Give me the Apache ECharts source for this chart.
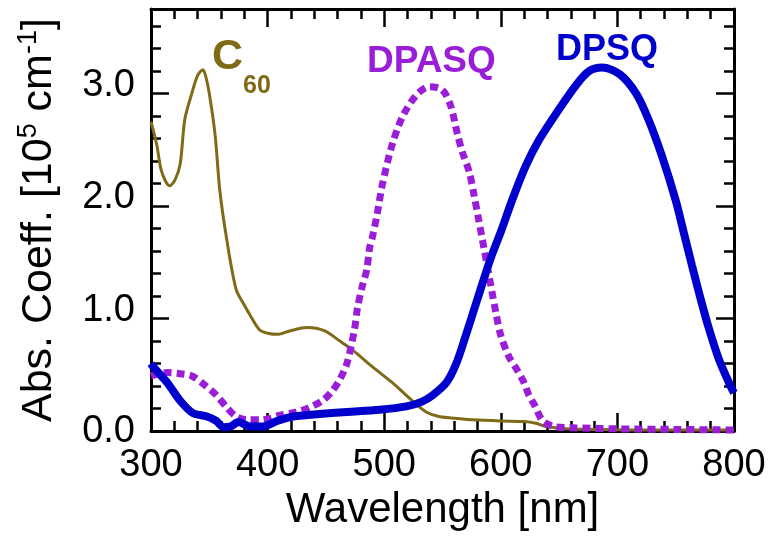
<!DOCTYPE html>
<html>
<head>
<meta charset="utf-8">
<script src="https://cdn.jsdelivr.net/npm/echarts@6/dist/echarts.min.js"></script>
<style>html,body{margin:0;padding:0;background:#fff;}#c{width:771px;height:536px;}</style>
</head>
<body>
<div id="c"></div>
<script>
// ---- data ----
var c60X = [300, 305, 309, 316, 320.5, 325, 329, 335, 340, 344.5, 347, 350, 355, 359, 365, 373, 380, 385, 393, 400, 408.5, 419, 434, 449, 462, 473, 490, 507, 524, 536, 547, 565, 576, 600, 620, 630, 639, 656, 680, 720, 760, 800];
var c60Y = [2.75, 2.54, 2.31, 2.18, 2.23, 2.37, 2.77, 3.0, 3.16, 3.21, 3.15, 3.0, 2.63, 2.14, 1.70, 1.26, 1.12, 1.03, 0.90, 0.87, 0.86, 0.89, 0.92, 0.89, 0.80, 0.72, 0.57, 0.43, 0.27, 0.17, 0.13, 0.11, 0.10, 0.09, 0.085, 0.07, 0.04, 0.02, 0.015, 0.01, 0.01, 0.01];

var dpasqX = [300, 314, 325, 335, 346, 356, 365, 373, 383, 395, 410, 425, 436, 447, 455, 462, 468, 474.5, 477, 481.5, 485, 487.5, 490, 494, 498.6, 507, 516, 528, 539, 550, 557, 563, 567, 573, 577, 581, 586, 591, 596, 600, 607, 613, 620, 624, 629, 636, 646, 660, 700, 750, 800];
var dpasqY = [0.49, 0.52, 0.51, 0.49, 0.41, 0.32, 0.21, 0.13, 0.10, 0.10, 0.14, 0.17, 0.21, 0.27, 0.35, 0.46, 0.60, 0.90, 1.09, 1.30, 1.43, 1.63, 1.73, 1.93, 2.20, 2.55, 2.80, 2.99, 3.06, 3.03, 2.89, 2.63, 2.48, 2.30, 2.10, 1.88, 1.60, 1.32, 1.04, 0.85, 0.66, 0.56, 0.43, 0.32, 0.23, 0.09, 0.04, 0.03, 0.02, 0.015, 0.01];

var dpsqX = [300, 302, 314, 325, 336, 348, 356, 362, 368, 375, 385, 396, 408, 422, 442, 468, 496, 519, 532, 541.7, 553.3, 561.8, 570.3, 577.4, 584.5, 591.5, 600, 610, 621.6, 633, 648, 665, 676, 687, 702, 716, 727, 738, 750, 757, 764, 771.5, 778.5, 787, 797, 800];
var dpsqY = [0.60, 0.57, 0.43, 0.27, 0.16, 0.13, 0.09, 0.035, 0.04, 0.08, 0.04, 0.04, 0.09, 0.13, 0.15, 0.17, 0.19, 0.22, 0.26, 0.32, 0.43, 0.60, 0.86, 1.09, 1.32, 1.54, 1.77, 2.06, 2.36, 2.59, 2.83, 3.08, 3.20, 3.23, 3.17, 3.00, 2.76, 2.45, 2.05, 1.76, 1.47, 1.17, 0.91, 0.64, 0.40, 0.34];

var xMin = 300, xMax = 800, xStep = 100;
var yMin = 0, yMax = 3.75, yStep = 1, yMinorStep = 0.2;

var seriesNames = ['C60', 'DPASQ', 'DPSQ'];
var colors = ['#7f6a17', '#9a1ed8', '#0000cc'];

function pairs(xs, ys) { return xs.map(function (x, i) { return [x, ys[i]]; }); }

var FONT = 'Liberation Sans, Arial, sans-serif';
var black = '#000';
var chart = echarts.init(document.getElementById('c'), null, { renderer: 'canvas' });

var majorTick = { show: true, inside: true, length: 18, lineStyle: { color: black, width: 2.5 } };
var minorTickAxis = { show: true, inside: true, length: 10, lineStyle: { color: black, width: 2.5 } };
var frameLine = { show: true, onZero: false, lineStyle: { color: black, width: 3 } };

chart.setOption({
  backgroundColor: '#fff',
  animation: false,
  grid: { left: 151, top: 9, right: 37, bottom: 89, containLabel: false },
  xAxis: [
    {
      type: 'value', min: xMin, max: xMax, interval: xStep, position: 'bottom',
      axisLine: frameLine, axisTick: majorTick,
      minorTick: { show: true, splitNumber: 5, length: 10, lineStyle: { color: black, width: 2.5 } },
      splitLine: { show: false }, minorSplitLine: { show: false },
      axisLabel: { fontSize: 38, color: black, fontFamily: FONT, margin: 15 },
      name: 'Wavelength [nm]', nameLocation: 'middle', nameGap: 51,
      nameTextStyle: { fontSize: 42, color: black, fontFamily: FONT }
    },
    {
      type: 'value', min: xMin, max: xMax, interval: xStep, position: 'top',
      axisLine: frameLine, axisTick: majorTick,
      minorTick: { show: true, splitNumber: 5, length: 10, lineStyle: { color: black, width: 2.5 } },
      splitLine: { show: false }, axisLabel: { show: false }
    }
  ],
  yAxis: [
    {
      type: 'value', min: yMin, max: yMax, interval: yStep, position: 'left',
      axisLine: frameLine, axisTick: majorTick, splitLine: { show: false },
      axisLabel: {
        showMaxLabel: false, color: black, margin: 16,
        formatter: function (v) { return v === 0 ? '{z|0.0}' : '{n|' + v.toFixed(1) + '}'; },
        rich: {
          n: { fontSize: 38, color: black, fontFamily: FONT, padding: [0, 0, 16, 0] },
          z: { fontSize: 38, color: black, fontFamily: FONT }
        }
      },
      name: '{t|Abs. Coeff. [10}{s|5}{t| cm}{s|-1}{t|]}',
      nameLocation: 'middle', nameGap: 88, nameRotate: 90,
      nameTextStyle: {
        rich: {
          t: { fontSize: 43, color: black, fontFamily: FONT, lineHeight: 48 },
          s: { fontSize: 27, color: black, fontFamily: FONT, verticalAlign: 'top', lineHeight: 48, padding: [0, 0, 18, 0] }
        }
      }
    },
    {
      type: 'value', min: yMin, max: yMax, interval: yMinorStep, position: 'left',
      axisLine: { show: false }, axisTick: minorTickAxis, splitLine: { show: false }, axisLabel: { show: false }
    },
    {
      type: 'value', min: yMin, max: yMax, interval: yStep, position: 'right',
      axisLine: frameLine, axisTick: majorTick, splitLine: { show: false }, axisLabel: { show: false }
    },
    {
      type: 'value', min: yMin, max: yMax, interval: yMinorStep, position: 'right',
      axisLine: { show: false }, axisTick: minorTickAxis, splitLine: { show: false }, axisLabel: { show: false }
    }
  ],
  series: [
    {
      name: seriesNames[0], type: 'line', xAxisIndex: 0, yAxisIndex: 0, data: pairs(c60X, c60Y),
      smooth: 0.3, showSymbol: false, symbol: 'none', z: 2,
      lineStyle: { color: colors[0], width: 3 }
    },
    {
      name: seriesNames[1], type: 'line', xAxisIndex: 0, yAxisIndex: 0, data: pairs(dpasqX, dpasqY),
      smooth: 0.3, showSymbol: false, symbol: 'none', z: 3,
      lineStyle: { color: colors[1], width: 7, type: [8, 5], cap: 'butt' }
    },
    {
      name: seriesNames[2], type: 'line', xAxisIndex: 0, yAxisIndex: 0, data: pairs(dpsqX, dpsqY),
      smooth: 0.3, showSymbol: false, symbol: 'none', z: 4,
      lineStyle: { color: colors[2], width: 8 }
    }
  ],
  graphic: [
    { type: 'text', left: 212, top: 36, style: { text: 'C', font: 'bold 43px ' + FONT, fill: colors[0] } },
    { type: 'text', left: 243, top: 74, style: { text: '60', font: 'bold 25px ' + FONT, fill: colors[0] } },
    { type: 'text', left: 367, top: 43, style: { text: 'DPASQ', font: 'bold 37px ' + FONT, fill: colors[1] } },
    { type: 'text', left: 556, top: 32, style: { text: 'DPSQ', font: 'bold 36px ' + FONT, fill: colors[2] } }
  ]
});
</script>
</body>
</html>
